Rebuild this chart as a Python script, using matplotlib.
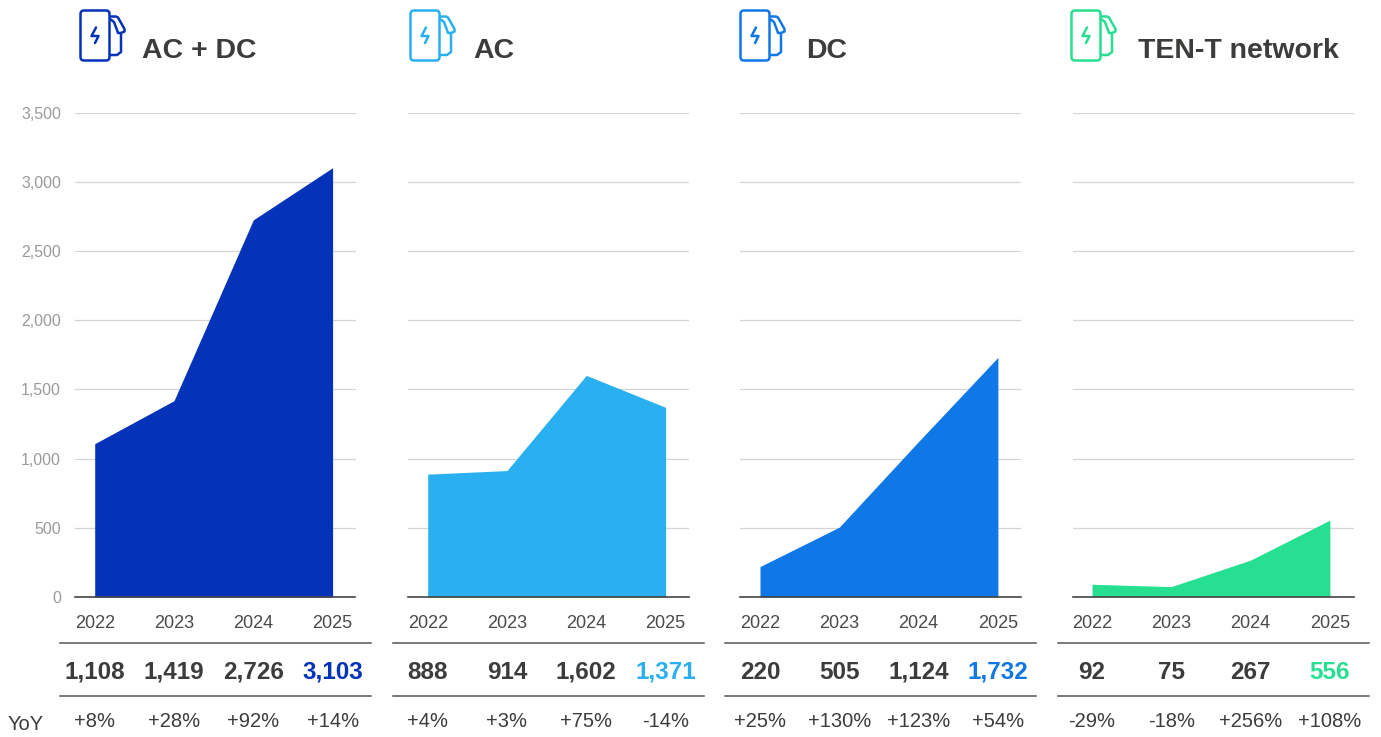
import matplotlib
matplotlib.use("Agg")
import matplotlib.pyplot as plt
from matplotlib.patches import FancyBboxPatch, PathPatch
from matplotlib.path import Path

plt.rcParams['font.family'] = ['Liberation Sans', 'DejaVu Sans']

W, H = 1381, 737
years = ['2022', '2023', '2024', '2025']
titles = ['AC + DC', 'AC', 'DC', 'TEN-T network']
colors = ['#0432B8', '#2AB0F0', '#0F78E6', '#27DF91']
ac_dc = [1108, 1419, 2726, 3103]
ac = [888, 914, 1602, 1371]
dc = [220, 505, 1124, 1732]
ten_t = [92, 75, 267, 556]
series = [ac_dc, ac, dc, ten_t]
yoy_ac_dc = ['+8%', '+28%', '+92%', '+14%']
yoy_ac = ['+4%', '+3%', '+75%', '-14%']
yoy_dc = ['+25%', '+130%', '+123%', '+54%']
yoy_ten_t = ['-29%', '-18%', '+256%', '+108%']
yoys = [yoy_ac_dc, yoy_ac, yoy_dc, yoy_ten_t]
yticks = [0, 500, 1000, 1500, 2000, 2500, 3000, 3500]

axis_left = [75, 408, 740, 1073]
axis_w = 280.5
first_x = [94.7, 427.7, 760, 1092]
step = 79.3
rule_left = [60, 393, 725, 1058]
rule_w = 311
icon_x = [80, 410, 740, 1071]
title_x = [142.5, 473, 806, 1138]
DARK = '#3C3C3B'

fig = plt.figure(figsize=(W / 100, H / 100), dpi=100, facecolor='white')
ov = fig.add_axes([0, 0, 1, 1], zorder=5)
ov.set_xlim(0, W)
ov.set_ylim(H, 0)
ov.axis('off')
ov.patch.set_alpha(0)


def icon(x, c):
    lw = 1.8
    ov.add_patch(FancyBboxPatch((x + 1.5, 11.5), 27, 48, boxstyle='round,pad=1,rounding_size=3.5',
                                fc='none', ec=c, lw=lw))
    pts = [(x + 30, 16.5), (x + 36, 16.5), (x + 38, 17.5), (x + 44.5, 29), (x + 44.5, 31.5), (x + 41, 33),
           (x + 41, 52), (x + 37, 55), (x + 30, 55)]
    ov.add_patch(PathPatch(Path(pts), fc='none', ec=c, lw=lw, joinstyle='round'))
    ov.add_patch(PathPatch(Path([(x + 30, 19), (x + 34, 22), (x + 37, 30), (x + 38, 33), (x + 41, 33)]),
                           fc='none', ec=c, lw=lw, joinstyle='round'))
    bolt = [(x + 16, 27.5), (x + 11.5, 36), (x + 18.5, 36), (x + 15, 43)]
    ov.add_patch(PathPatch(Path(bolt), fc='none', ec=c, lw=lw, joinstyle='round', capstyle='round'))


for i, vals in enumerate(series):
    x0 = first_x[i]
    l = axis_left[i]
    ax = fig.add_axes([l / W, 1 - 597 / H, axis_w / W, (597 - 112.8) / H])
    ax.set_ylim(0, 3500)
    ax.set_xlim((l - x0) / step, (l + axis_w - x0) / step)
    ax.fill_between(range(4), vals, 0, color=colors[i], lw=0, zorder=2)
    ax.set_yticks(yticks)
    ax.set_xticks(range(4))
    ax.set_xticklabels(years, fontsize=13, color='#4A4A4A')
    ax.tick_params(axis='x', length=0, pad=13)
    ax.tick_params(axis='y', length=0, pad=10)
    if i == 0:
        ax.set_yticklabels([f'{v:,}' for v in yticks], fontsize=11.5, color='#9A9A9A')
    else:
        ax.tick_params(axis='y', labelleft=False)
    ax.grid(axis='y', color='#D4D4D4', lw=0.9, zorder=1)
    ax.grid(axis='x', visible=False)
    for s in ['top', 'left', 'right']:
        ax.spines[s].set_visible(False)
    ax.spines['bottom'].set_color('#444444')
    ax.spines['bottom'].set_linewidth(1.2)
    ax.spines['bottom'].set_zorder(4)
    ax.set_axisbelow(True)

    for y in (643, 696):
        ov.plot([rule_left[i], rule_left[i] + rule_w], [y, y], color='#555555', lw=1.1)
    icon(icon_x[i], colors[i])
    ov.text(title_x[i], 57.5, titles[i], fontsize=20.5, fontweight='bold', color=DARK, va='baseline', ha='left')
    for j, v in enumerate(vals):
        cx = x0 + step * j
        ov.text(cx, 679, f'{v:,}', fontsize=17.5, fontweight='bold',
                color=colors[i] if j == 3 else DARK, va='baseline', ha='center')
        ov.text(cx, 727, yoys[i][j], fontsize=14.5, color=DARK, va='baseline', ha='center')

ov.text(8, 730, 'YoY', fontsize=14.5, color=DARK, va='baseline', ha='left')

fig.savefig('out.png', dpi=100)
